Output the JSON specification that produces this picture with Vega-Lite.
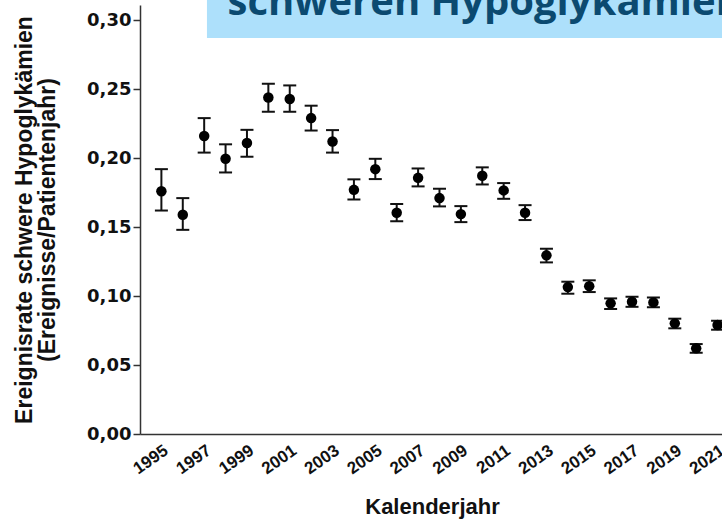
{
  "$schema": "https://vega.github.io/schema/vega-lite/v6.json",
  "autosize": {"type": "none"},
  "padding": {"left": 140, "top": 5, "right": 0, "bottom": 98},
  "width": 584,
  "height": 429,
  "background": "white",
  "config": {"view": {"stroke": null}, "font": "Liberation Sans"},
  "data": {"values": [
    {"year": 1995, "rate": 0.176, "lo": 0.162, "hi": 0.192},
    {"year": 1996, "rate": 0.159, "lo": 0.148, "hi": 0.171},
    {"year": 1997, "rate": 0.216, "lo": 0.204, "hi": 0.229},
    {"year": 1998, "rate": 0.1995, "lo": 0.1896, "hi": 0.210},
    {"year": 1999, "rate": 0.211, "lo": 0.201, "hi": 0.2205},
    {"year": 2000, "rate": 0.244, "lo": 0.2336, "hi": 0.254},
    {"year": 2001, "rate": 0.2428, "lo": 0.2336, "hi": 0.2527},
    {"year": 2002, "rate": 0.229, "lo": 0.220, "hi": 0.238},
    {"year": 2003, "rate": 0.212, "lo": 0.204, "hi": 0.2203},
    {"year": 2004, "rate": 0.177, "lo": 0.170, "hi": 0.1846},
    {"year": 2005, "rate": 0.192, "lo": 0.1848, "hi": 0.1995},
    {"year": 2006, "rate": 0.1604, "lo": 0.1543, "hi": 0.1667},
    {"year": 2007, "rate": 0.1857, "lo": 0.1795, "hi": 0.1925},
    {"year": 2008, "rate": 0.171, "lo": 0.165, "hi": 0.1778},
    {"year": 2009, "rate": 0.1594, "lo": 0.1536, "hi": 0.1652},
    {"year": 2010, "rate": 0.1872, "lo": 0.1809, "hi": 0.1933},
    {"year": 2011, "rate": 0.1766, "lo": 0.1705, "hi": 0.1819},
    {"year": 2012, "rate": 0.1604, "lo": 0.1551, "hi": 0.1659},
    {"year": 2013, "rate": 0.1295, "lo": 0.1244, "hi": 0.1343},
    {"year": 2014, "rate": 0.1065, "lo": 0.1017, "hi": 0.1104},
    {"year": 2015, "rate": 0.1072, "lo": 0.1029, "hi": 0.1114},
    {"year": 2016, "rate": 0.0947, "lo": 0.0906, "hi": 0.0983},
    {"year": 2017, "rate": 0.0959, "lo": 0.0922, "hi": 0.0995},
    {"year": 2018, "rate": 0.0954, "lo": 0.0918, "hi": 0.099},
    {"year": 2019, "rate": 0.0802, "lo": 0.0766, "hi": 0.0836},
    {"year": 2020, "rate": 0.0621, "lo": 0.0589, "hi": 0.0652},
    {"year": 2021, "rate": 0.079, "lo": 0.0756, "hi": 0.0821}
  ]},
  "layer": [
    {
      "data": {"values": [{"heading": "schweren Hypoglykämien"}]},
      "mark": {"type": "rect", "color": "#ade0fb", "clip": false},
      "encoding": {
        "x": {"datum": 1997.13, "type": "quantitative", "scale": {"domain": [1994, 2021.3], "nice": false, "zero": false}},
        "x2": {"datum": 2030},
        "y": {"datum": 0.287, "type": "quantitative", "scale": {"domain": [0, 0.311], "nice": false, "zero": true}},
        "y2": {"datum": 0.34}
      }
    },
    {
      "data": {"values": [{"heading": "schweren Hypoglykämien"}]},
      "mark": {"type": "text", "align": "left", "baseline": "alphabetic", "font": "Open Sans", "fontWeight": "bold", "fontSize": 40, "color": "#0b4a70", "clip": false},
      "encoding": {
        "x": {"datum": 1998.09, "type": "quantitative", "scale": {"domain": [1994, 2021.3], "nice": false, "zero": false}},
        "y": {"datum": 0.3036, "type": "quantitative", "scale": {"domain": [0, 0.311], "nice": false, "zero": true}},
        "text": {"field": "heading"}
      }
    },
    {
      "encoding": {
        "x": {
          "field": "year", "type": "quantitative",
          "scale": {"domain": [1994, 2021.3], "nice": false, "zero": false},
          "axis": {
            "values": [1995, 1997, 1999, 2001, 2003, 2005, 2007, 2009, 2011, 2013, 2015, 2017, 2019, 2021],
            "format": "d", "labelAngle": -35, "labelOverlap": false, "labelBound": false, "ticks": false, "tickSize": 0, "labelPadding": 8,
            "labelFont": "Liberation Sans", "labelFontWeight": "bold", "labelFontSize": 17, "labelColor": "#111",
            "domainColor": "#333", "domainWidth": 1.5, "grid": false,
            "title": "Kalenderjahr", "titleFont": "Liberation Sans", "titleFontWeight": "bold", "titleFontSize": 22,
            "titleColor": "#111", "titlePadding": 20
          }
        },
        "y": {
          "field": "rate", "type": "quantitative",
          "scale": {"domain": [0, 0.311], "nice": false, "zero": true},
          "axis": {
            "values": [0, 0.05, 0.1, 0.15, 0.2, 0.25, 0.3],
            "labelExpr": "replace(format(datum.value, '.2f'), '.', ',')",
            "labelFont": "DejaVu Sans", "labelFontWeight": "bold", "labelFontSize": 18, "labelColor": "#111",
            "tickSize": 7, "tickWidth": 1.5, "tickColor": "#333", "labelPadding": 2,
            "domainColor": "#333", "domainWidth": 1.5, "grid": false,
            "title": ["Ereignisrate schwere Hypoglykämien", "(Ereignisse/Patientenjahr)"],
            "titleFont": "Liberation Sans", "titleFontWeight": "bold", "titleFontSize": 23,
            "titleLineHeight": 23, "titleColor": "#111", "titlePadding": 27
          }
        }
      },
      "layer": [
        {
          "mark": {"type": "rule", "color": "#111", "strokeWidth": 2},
          "encoding": {
            "y": {"field": "lo", "type": "quantitative"},
            "y2": {"field": "hi"}
          }
        },
        {
          "mark": {"type": "tick", "orient": "horizontal", "color": "#111", "size": 13, "thickness": 2, "opacity": 1},
          "encoding": {"y": {"field": "lo", "type": "quantitative"}}
        },
        {
          "mark": {"type": "tick", "orient": "horizontal", "color": "#111", "size": 13, "thickness": 2, "opacity": 1},
          "encoding": {"y": {"field": "hi", "type": "quantitative"}}
        },
        {
          "mark": {"type": "circle", "color": "#000", "size": 110, "opacity": 1}
        }
      ]
    }
  ]
}
